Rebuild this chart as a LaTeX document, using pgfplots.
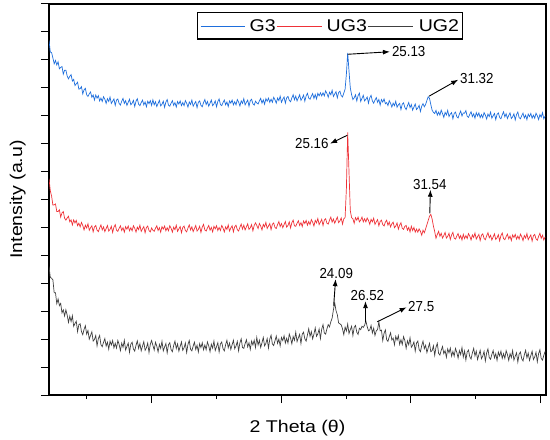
\documentclass[border=0pt]{standalone}
\usepackage{pgfplots}
\pgfplotsset{compat=1.18}
\usepackage{pgfplotstable}
\usepackage{fontspec}
\setmainfont{Liberation Sans}[FakeStretch=1.15]
\newfontfamily\annfont{Liberation Sans}[FakeStretch=0.92]
\usetikzlibrary{arrows.meta,calc}
\definecolor{cblue}{RGB}{30,110,220}
\definecolor{cred}{RGB}{238,50,56}
\definecolor{cgrey}{RGB}{64,64,64}

\pgfplotstableread{
x g3 ug3 ug2
2.13 12.70 7.75 4.60
2.23 12.28 7.31 4.21
2.33 12.26 7.12 4.18
2.43 12.07 6.80 4.12
2.53 11.86 6.81 3.66
2.63 11.98 6.84 3.66
2.73 11.82 6.57 3.27
2.83 11.93 6.57 3.44
2.93 11.68 6.63 3.20
3.03 11.73 6.37 3.28
3.13 11.76 6.52 2.94
3.23 11.49 6.57 3.05
3.33 11.63 6.33 2.83
3.43 11.63 6.26 3.05
3.53 11.42 6.34 2.86
3.63 11.32 6.40 2.60
3.73 11.41 6.20 2.82
3.83 11.47 6.27 2.63
3.93 11.24 6.09 2.84
4.03 11.30 6.27 2.46
4.13 11.08 6.16 2.56
4.23 11.14 6.25 2.64
4.33 11.20 6.06 2.27
4.43 10.95 6.15 2.52
4.53 10.97 6.02 2.55
4.63 11.04 6.18 2.27
4.73 10.78 6.07 2.16
4.83 10.93 5.91 2.35
4.93 10.98 6.08 2.48
5.03 10.75 5.98 2.18
5.13 10.69 6.13 2.31
5.23 10.78 5.90 2.00
5.33 10.85 5.99 2.13
5.43 10.66 6.06 2.26
5.53 10.74 5.84 1.93
5.63 10.56 6.02 1.99
5.73 10.74 6.07 2.13
5.83 10.63 5.90 1.76
5.93 10.72 5.85 2.02
6.03 10.53 5.98 2.13
6.13 10.63 6.09 1.80
6.23 10.51 5.91 1.73
6.33 10.68 6.02 1.89
6.43 10.59 5.85 2.02
6.53 10.44 5.96 1.75
6.63 10.61 6.07 1.89
6.73 10.51 5.87 1.64
6.83 10.67 5.93 1.93
6.93 10.44 6.04 1.79
7.03 10.52 5.82 1.95
7.13 10.60 6.01 1.69
7.23 10.37 6.10 1.85
7.33 10.56 5.90 1.68
7.43 10.60 5.86 1.95
7.53 10.44 5.97 1.81
7.63 10.38 6.06 1.59
7.73 10.52 5.89 1.86
7.83 10.62 5.99 1.71
7.93 10.44 5.83 1.96
8.03 10.54 6.03 1.61
8.13 10.37 5.94 1.74
8.23 10.48 6.05 1.86
8.33 10.59 5.88 1.53
8.43 10.39 5.99 1.82
8.53 10.45 5.88 1.89
8.63 10.55 6.06 1.65
8.73 10.33 5.97 1.57
8.83 10.52 5.83 1.78
8.93 10.61 6.01 1.94
9.03 10.41 5.92 1.67
9.13 10.36 6.08 1.84
9.23 10.47 5.86 1.58
9.33 10.56 5.95 1.75
9.43 10.39 6.03 1.91
9.53 10.49 5.81 1.60
9.63 10.32 6.00 1.69
9.73 10.52 6.05 1.86
9.83 10.43 5.89 1.52
9.93 10.54 5.84 1.81
10.03 10.37 5.98 1.95
10.13 10.57 5.90 1.78
10.23 10.39 5.86 1.61
10.33 10.50 5.97 1.89
10.43 10.33 6.06 1.75
10.53 10.44 5.89 1.54
10.63 10.55 5.99 1.81
10.73 10.35 5.83 1.67
10.83 10.41 6.03 1.92
10.93 10.52 5.94 1.58
11.03 10.30 6.05 1.72
11.13 10.49 5.88 1.84
11.23 10.58 5.99 1.51
11.33 10.38 5.88 1.80
11.43 10.34 6.06 1.87
11.53 10.45 5.97 1.63
11.63 10.54 5.83 1.55
11.73 10.37 6.01 1.77
11.83 10.47 5.92 1.93
11.93 10.31 6.08 1.66
12.03 10.51 5.86 1.83
12.13 10.42 5.95 1.57
12.23 10.53 6.03 1.74
12.33 10.36 5.81 1.90
12.43 10.47 6.00 1.60
12.53 10.36 6.05 1.69
12.63 10.54 5.89 1.86
12.73 10.45 5.84 1.52
12.83 10.31 5.98 1.81
12.93 10.49 6.09 1.95
13.03 10.40 5.91 1.64
13.13 10.56 6.02 1.58
13.23 10.34 5.85 1.75
13.33 10.43 5.96 1.89
13.43 10.51 6.07 1.63
13.53 10.29 5.87 1.78
13.63 10.48 5.93 1.54
13.73 10.53 6.04 1.84
13.83 10.37 5.82 1.70
13.93 10.32 6.01 1.87
14.03 10.47 6.11 1.62
14.13 10.58 5.91 1.79
14.23 10.40 5.87 1.62
14.33 10.51 5.98 1.90
14.43 10.34 6.07 1.76
14.53 10.45 5.90 1.55
14.63 10.56 6.00 1.82
14.73 10.36 5.84 1.68
14.83 10.42 6.04 1.93
14.93 10.53 5.95 1.59
15.03 10.32 6.06 1.73
15.13 10.51 5.89 1.87
15.23 10.60 6.00 1.54
15.33 10.40 5.89 1.83
15.43 10.36 6.07 1.90
15.53 10.47 5.98 1.66
15.63 10.56 5.84 1.58
15.73 10.39 6.02 1.80
15.83 10.49 5.93 1.96
15.93 10.33 6.09 1.69
16.03 10.53 5.87 1.86
16.13 10.45 5.98 1.63
16.23 10.56 6.06 1.80
16.33 10.39 5.84 1.96
16.43 10.50 6.03 1.66
16.53 10.39 6.08 1.75
16.63 10.58 5.92 1.92
16.73 10.49 5.87 1.58
16.83 10.35 6.01 1.87
16.93 10.53 6.12 2.01
17.03 10.44 5.94 1.70
17.13 10.61 6.08 1.67
17.23 10.39 5.91 1.84
17.33 10.48 6.02 1.98
17.43 10.56 6.13 1.72
17.53 10.34 5.93 1.87
17.63 10.54 5.99 1.63
17.73 10.59 6.10 1.93
17.83 10.43 5.88 1.79
17.93 10.38 6.07 1.96
18.03 10.52 6.16 1.70
18.13 10.46 6.07 2.06
18.23 10.42 5.96 1.79
18.33 10.53 6.14 1.96
18.43 10.62 6.05 1.70
18.53 10.45 5.91 1.87
18.63 10.57 6.11 2.06
18.73 10.41 6.02 1.76
18.83 10.61 6.18 1.85
18.93 10.52 5.96 2.02
19.03 10.63 6.05 1.68
19.13 10.48 6.14 2.00
19.23 10.59 5.92 2.14
19.33 10.48 6.11 1.83
19.43 10.66 6.16 1.77
19.53 10.57 6.00 1.94
19.63 10.45 5.96 2.11
19.73 10.63 6.10 1.85
19.83 10.54 6.21 2.00
19.93 10.70 6.03 1.76
20.03 10.48 6.14 2.06
20.13 10.59 5.99 1.95
20.23 10.67 6.10 2.12
20.33 10.45 6.21 1.86
20.43 10.64 6.01 2.03
20.53 10.69 6.07 1.86
20.63 10.55 6.20 2.18
20.73 10.50 5.98 2.04
20.83 10.64 6.17 1.83
20.93 10.75 6.26 2.10
21.03 10.57 6.06 1.96
21.13 10.70 6.04 2.25
21.23 10.53 6.15 1.91
21.33 10.64 6.24 2.05
21.43 10.75 6.07 2.17
21.53 10.55 6.17 1.84
21.63 10.63 6.03 2.18
21.73 10.74 6.23 2.25
21.83 10.52 6.14 2.01
21.93 10.71 6.25 1.93
22.03 10.80 6.08 2.15
22.13 10.63 6.21 2.37
22.23 10.59 6.10 2.10
22.33 10.70 6.28 2.27
22.43 10.79 6.19 2.01
22.53 10.62 6.05 2.18
22.63 10.76 6.25 2.40
22.73 10.60 6.16 2.10
22.83 10.80 6.32 2.19
22.93 10.71 6.10 2.36
23.03 10.82 6.19 2.02
23.13 10.71 6.29 2.36
23.23 10.82 6.07 2.52
23.33 10.71 6.26 2.22
23.43 10.89 6.31 2.18
23.53 10.80 6.15 2.37
23.63 10.66 6.12 2.52
23.73 10.84 6.26 2.44
23.83 10.75 6.37 2.62
23.93 10.91 6.19 2.75
24.03 10.69 6.30 3.05
24.13 10.78 6.15 3.30
24.23 10.86 6.26 3.02
24.33 10.64 6.37 2.88
24.43 10.83 6.17 2.58
24.53 10.88 6.23 2.55
24.63 10.72 6.34 2.51
24.73 10.67 6.12 2.37
24.83 10.81 6.31 2.16
24.93 10.95 6.35 2.43
25.03 11.50 7.40 2.29
25.13 12.25 9.40 2.54
25.23 11.60 8.00 2.20
25.33 11.00 6.60 2.34
25.43 10.75 6.35 2.46
25.53 10.58 6.31 2.13
25.63 10.64 6.15 2.42
25.73 10.75 6.35 2.49
25.83 10.53 6.26 2.25
25.93 10.72 6.37 2.17
26.03 10.81 6.20 2.39
26.13 10.51 6.26 2.34
26.23 10.62 6.37 2.46
26.33 10.73 6.20 2.42
26.43 10.53 6.31 2.50
26.53 10.59 6.20 2.65
26.63 10.67 6.34 2.45
26.73 10.45 6.25 2.30
26.83 10.64 6.11 2.33
26.93 10.73 6.29 2.49
27.03 10.53 6.20 2.22
27.13 10.45 6.33 2.39
27.23 10.56 6.11 2.13
27.33 10.65 6.20 2.30
27.43 10.48 6.28 2.34
27.53 10.58 6.06 2.62
27.63 10.38 6.21 2.30
27.73 10.58 6.26 2.32
27.83 10.49 6.10 1.95
27.93 10.60 6.05 2.21
28.03 10.43 6.19 2.33
28.13 10.47 6.26 1.98
28.23 10.36 6.08 1.92
28.33 10.54 6.19 2.09
28.43 10.45 6.02 2.23
28.53 10.31 6.13 1.97
28.63 10.45 6.19 2.04
28.73 10.36 5.99 1.80
28.83 10.52 6.05 2.10
28.93 10.30 6.16 1.96
29.03 10.39 5.94 2.13
29.13 10.44 6.08 1.81
29.23 10.22 6.17 1.98
29.33 10.41 5.97 1.81
29.43 10.46 5.93 2.09
29.53 10.30 6.04 1.95
29.63 10.22 6.07 1.67
29.73 10.36 5.90 1.94
29.83 10.47 6.00 1.80
29.93 10.29 5.84 2.05
30.03 10.40 6.04 1.71
30.13 10.20 5.89 1.78
30.23 10.31 6.00 1.90
30.33 10.42 5.83 1.57
30.43 10.22 5.94 1.86
30.53 10.28 5.83 1.93
30.63 10.37 5.95 1.63
30.73 10.15 5.86 1.55
30.83 10.34 5.72 1.77
30.93 10.43 5.90 1.93
31.03 10.32 5.81 1.66
31.13 10.40 5.95 1.78
31.23 10.55 6.10 1.52
31.33 10.68 6.25 1.69
31.43 10.62 6.40 1.85
31.53 10.40 6.47 1.55
31.63 10.20 6.30 1.59
31.73 10.12 6.05 1.76
31.83 10.08 5.85 1.42
31.93 10.19 5.61 1.71
32.03 10.02 5.75 1.85
32.13 10.13 5.86 1.49
32.23 10.02 5.68 1.43
32.33 10.20 5.79 1.60
32.43 10.08 5.62 1.74
32.53 9.94 5.71 1.48
32.63 10.12 5.82 1.59
32.73 10.03 5.62 1.35
32.83 10.19 5.68 1.65
32.93 9.97 5.79 1.51
33.03 10.06 5.57 1.68
33.13 10.11 5.73 1.39
33.23 9.89 5.82 1.56
33.33 10.08 5.62 1.39
33.43 10.13 5.58 1.67
33.53 9.97 5.69 1.53
33.63 9.92 5.78 1.32
33.73 10.06 5.61 1.59
33.83 10.17 5.71 1.45
33.93 9.99 5.55 1.70
34.03 10.10 5.75 1.36
34.13 10.09 5.60 1.58
34.23 10.18 5.71 1.25
34.33 9.98 5.60 1.54
34.43 9.94 5.78 1.61
34.53 10.05 5.69 1.37
34.63 10.14 5.55 1.29
34.73 9.97 5.73 1.51
34.83 10.07 5.64 1.67
34.93 9.91 5.80 1.40
35.03 10.11 5.58 1.57
35.13 9.99 5.67 1.27
35.23 10.10 5.75 1.44
35.33 9.93 5.53 1.60
35.43 10.04 5.72 1.30
35.53 9.93 5.77 1.39
35.63 10.11 5.61 1.56
35.73 10.02 5.56 1.22
35.83 9.88 5.70 1.51
35.93 10.06 5.81 1.65
36.03 9.97 5.63 1.34
36.13 10.13 5.72 1.28
36.23 9.91 5.55 1.45
36.33 10.00 5.66 1.59
36.43 10.08 5.77 1.33
36.53 9.86 5.57 1.48
36.63 10.05 5.63 1.24
36.73 10.10 5.74 1.54
36.83 9.94 5.52 1.40
36.93 9.89 5.71 1.57
37.03 10.03 5.80 1.31
37.13 10.14 5.60 1.48
37.23 9.96 5.56 1.31
37.33 10.07 5.67 1.59
37.43 9.90 5.76 1.45
37.53 10.01 5.59 1.24
37.63 10.10 5.69 1.48
37.73 9.90 5.53 1.34
37.83 9.96 5.73 1.59
37.93 10.07 5.64 1.25
38.03 9.85 5.75 1.39
38.13 10.04 5.58 1.51
38.23 10.13 5.69 1.18
38.33 9.93 5.58 1.47
38.43 9.89 5.76 1.54
38.53 10.00 5.67 1.30
38.63 10.09 5.53 1.22
38.73 9.92 5.71 1.44
38.83 10.02 5.62 1.60
38.93 9.86 5.78 1.33
39.03 10.06 5.56 1.50
39.13 9.97 5.65 1.24
39.23 10.08 5.73 1.41
39.33 9.91 5.51 1.57
39.43 10.02 5.70 1.27
39.53 9.91 5.75 1.36
39.63 10.09 5.59 1.53
39.73 10.00 5.54 1.19
39.83 9.86 5.68 1.48
39.93 10.04 5.79 1.62
40.03 9.95 5.61 1.31
40.13 10.11 5.72 1.25
40.23 9.89 5.55 1.42
40.33 9.98 5.66 1.56
}\xrd

\begin{document}
\begin{tikzpicture}
\begin{axis}[
  name=ax,
  scale only axis,
  width=497pt, height=391pt,
  xmin=2.13, xmax=40.4,
  ymin=0, ymax=14,
  xtick={10,20,30,40},
  minor xtick={5,15,25,35},
  ytick={0,1,...,14},
  xticklabels={}, yticklabels={},
  tick pos=left,
  tick align=outside,
  major tick length=8pt,
  minor tick length=4pt,
  every tick/.style={black, line width=1pt},
  axis line style={line width=1.2pt},
]
\addplot[draw=cblue, line width=0.7pt] table[x=x, y=g3] {\xrd};
\addplot[draw=cred, line width=0.7pt] table[x=x, y=ug3] {\xrd};
\addplot[draw=cgrey, line width=0.7pt] table[x=x, y=ug2] {\xrd};

\begin{scope}[font=\annfont\fontsize{14.5}{16}\selectfont]
\draw[line width=0.9pt, -{Latex[length=7pt,width=5pt]}] (axis cs:25.13,12.2) -- (axis cs:28.38,12.29);
\node[anchor=west, inner sep=1pt] at (axis cs:28.45,12.29) {25.13};
\draw[line width=0.9pt, -{Latex[length=7pt,width=5pt]}] (axis cs:31.4,10.7) -- (axis cs:33.64,11.29);
\node[anchor=west, inner sep=1pt] at (axis cs:33.7,11.32) {31.32};
\draw[line width=0.9pt, -{Latex[length=7pt,width=5pt]}] (axis cs:25.1,9.3) -- (axis cs:23.77,9.0);
\node[anchor=east, inner sep=1pt] at (axis cs:23.75,9.0) {25.16};
\draw[line width=0.9pt, -{Latex[length=7pt,width=5pt]}] (axis cs:31.45,6.5) -- (axis cs:31.5,7.35);
\node[anchor=south, inner sep=1pt] at (axis cs:31.45,7.3) {31.54};
\draw[line width=0.9pt, -{Latex[length=7pt,width=5pt]}] (axis cs:24.05,3.2) -- (axis cs:24.2,4.15);
\node[anchor=south, inner sep=1pt] at (axis cs:24.25,4.12) {24.09};
\draw[line width=0.9pt, -{Latex[length=7pt,width=5pt]}] (axis cs:26.5,2.62) -- (axis cs:26.5,3.36);
\node[anchor=south, inner sep=1pt] at (axis cs:26.65,3.33) {26.52};
\draw[line width=0.9pt, -{Latex[length=7pt,width=5pt]}] (axis cs:27.4,2.62) -- (axis cs:29.67,3.14);
\node[anchor=west, inner sep=1pt] at (axis cs:29.7,3.18) {27.5};
\end{scope}
\end{axis}
\node[draw=black, line width=1.2pt, anchor=north west, inner xsep=3.3pt, inner ysep=7pt,
  font=\fontsize{17}{19}\selectfont] at ($(ax.north west)+(147.7pt,-8.3pt)$)
  {{\color{cblue}\rule[5.5pt]{44pt}{0.7pt}}\hspace{5pt}G3\hspace{1pt}{\color{cred}\rule[5.5pt]{45pt}{0.7pt}}\hspace{5pt}UG3\hspace{1pt}{\color{cgrey}\rule[5.5pt]{45pt}{0.7pt}}\hspace{6pt}UG2};
\node[anchor=base, font=\fontsize{17}{20}\selectfont] at ($(ax.south)+(0,-37pt)$) {2 Theta (θ)};
\node[anchor=base, rotate=90, font=\fontsize{17}{20}\selectfont] at ($(ax.west)+(-27pt,0)$) {Intensity (a.u)};
\pgfresetboundingbox
\useasboundingbox ($(ax.south west)+(-49pt,-44pt)$) rectangle ($(ax.north east)+(4pt,4pt)$);
\end{tikzpicture}
\end{document}
